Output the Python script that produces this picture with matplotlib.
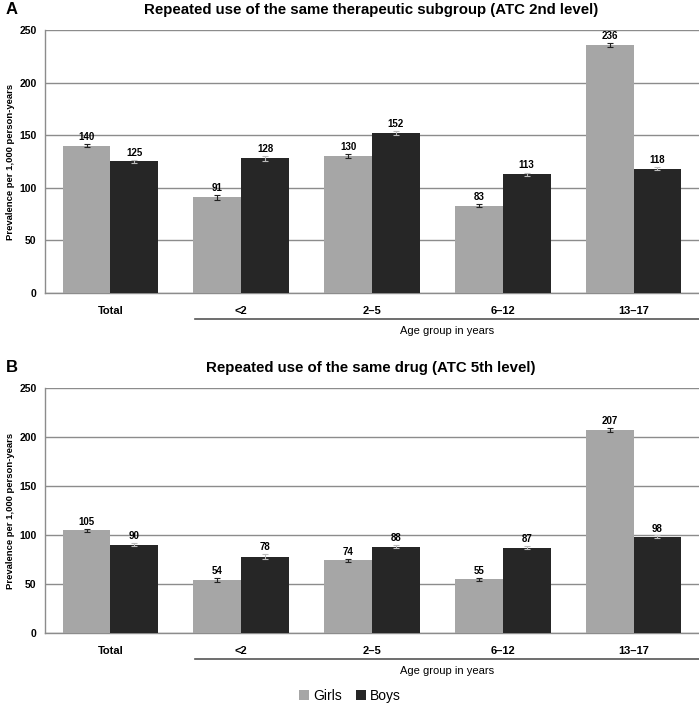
import numpy as np
import matplotlib.pyplot as plt

plt.rcParams['font.family'] = ['Liberation Sans', 'DejaVu Sans']

categories = ['Total', '<2', '2\u20135', '6\u201312', '13\u201317']

girls_a = [140, 91, 130, 83, 236]
boys_a = [125, 128, 152, 113, 118]
girls_a_err = [1.5, 2.5, 2, 1.5, 2]
boys_a_err = [1.5, 2.5, 2, 1.5, 1.5]

girls_b = [105, 54, 74, 55, 207]
boys_b = [90, 78, 88, 87, 98]
girls_b_err = [1.5, 2, 1.5, 1.5, 2]
boys_b_err = [1.5, 2.5, 1.5, 1.5, 1.5]

titles = ['Repeated use of the same therapeutic subgroup (ATC 2nd level)',
          'Repeated use of the same drug (ATC 5th level)']
panels = ['A', 'B']

girl_col = '#a6a6a6'
boy_col = '#262626'

W, H = 699, 707
fig = plt.figure(figsize=(W / 100, H / 100), dpi=100)

# axes boxes in pixels: (left, top of 250, bottom at 0)
boxes = [(45, 30, 293), (45, 388, 633)]
data = [(girls_a, boys_a, girls_a_err, boys_a_err),
        (girls_b, boys_b, girls_b_err, boys_b_err)]

x = np.arange(len(categories))
bw = 0.365

for i, (box, (g, b, ge, be)) in enumerate(zip(boxes, data)):
    left, top, bot = box
    ax = fig.add_axes([left / W, 1 - bot / H, (W - left) / W, (bot - top) / H])
    ax.bar(x - bw / 2, g, bw, color=girl_col, label='Girls', zorder=3,
           yerr=ge, error_kw=dict(ecolor='#222222', elinewidth=0.8,
                                  capsize=2, capthick=0.8))
    ax.bar(x + bw / 2, b, bw, color=boy_col, label='Boys', zorder=3,
           yerr=be, error_kw=dict(ecolor='#bbbbbb', elinewidth=0.8,
                                  capsize=2, capthick=0.8))
    for xi, v, e in zip(x - bw / 2, g, ge):
        ax.text(xi, v + e + 2, str(v), ha='center', va='bottom',
                fontsize=7, fontweight='bold')
    for xi, v, e in zip(x + bw / 2, b, be):
        ax.text(xi, v + e + 2, str(v), ha='center', va='bottom',
                fontsize=7, fontweight='bold')

    ax.set_xlim(-0.5, len(categories) - 0.5)
    ax.set_ylim(0, 250)
    ax.set_yticks(range(0, 251, 50))
    ax.yaxis.grid(True, color='#8c8c8c', linewidth=1, zorder=0)
    ax.set_axisbelow(True)
    for s in ['top', 'right']:
        ax.spines[s].set_visible(False)
    ax.spines['left'].set_color('#8c8c8c')
    ax.spines['bottom'].set_color('#8c8c8c')
    ax.spines['left'].set_linewidth(1)
    ax.spines['bottom'].set_linewidth(1)
    ax.tick_params(axis='y', length=0, labelsize=7.5, pad=6)
    ax.tick_params(axis='x', length=0, labelsize=8, pad=9)
    ax.set_xticks(x)
    ax.set_xticklabels(categories, fontsize=8, fontweight='bold')
    for lab in ax.get_yticklabels():
        lab.set_fontweight('bold')
    ax.set_ylabel('Prevalence per 1,000 person-years', fontsize=6.8,
                  fontweight='bold', labelpad=3)

    # bracket line under age groups
    fig.lines.append(plt.Line2D([195 / W, 1.0], [1 - (bot + 26) / H] * 2,
                                transform=fig.transFigure, color='#555555',
                                linewidth=1.2))
    fig.text(447 / W, 1 - (bot + 38) / H, 'Age group in years',
             ha='center', va='center', fontsize=8)

    fig.text(371 / W, 1 - (top - 20) / H, titles[i], ha='center',
             va='center', fontsize=10.8, fontweight='bold')
    fig.text(6 / W, 1 - (top - 20) / H, panels[i], ha='left',
             va='center', fontsize=12, fontweight='bold')

    if i == 1:
        h, l = ax.get_legend_handles_labels()
        fig.legend(h, l, loc='center', bbox_to_anchor=(350 / W, 1 - 696 / H),
                   ncol=2, frameon=False, fontsize=10, handlelength=0.7,
                   handleheight=0.7, handletextpad=0.3, columnspacing=1.0,
                   borderpad=0.1)

fig.savefig('out.png', dpi=100)
